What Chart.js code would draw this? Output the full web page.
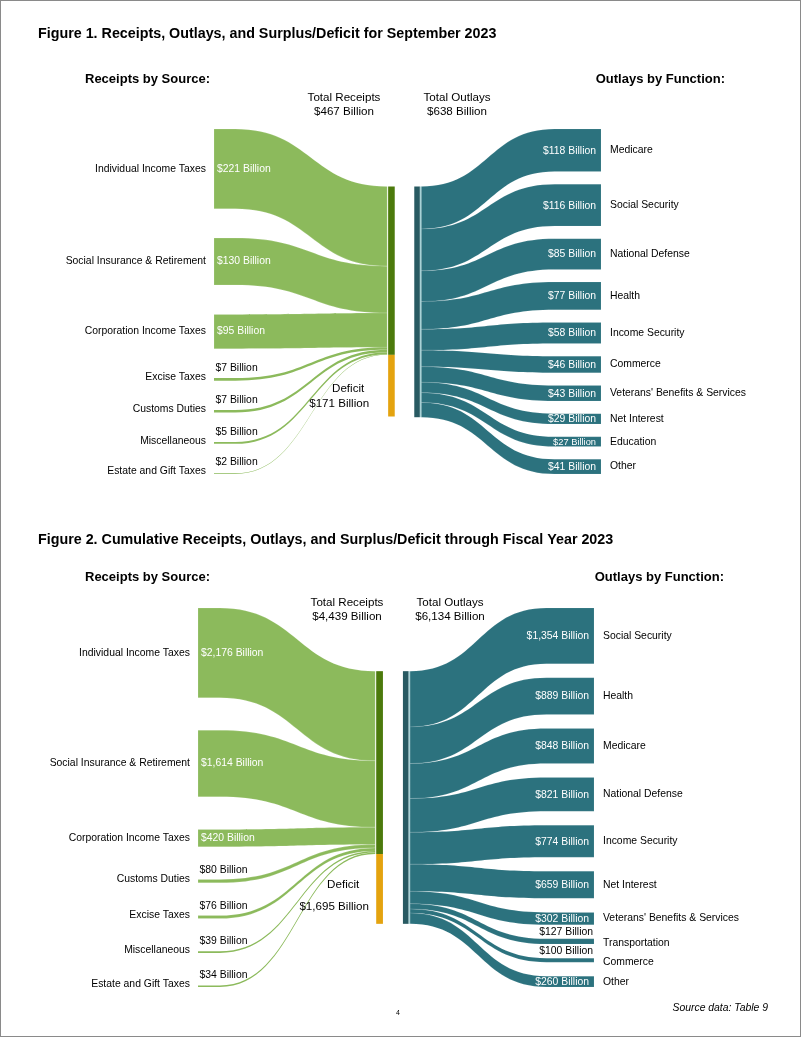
<!DOCTYPE html>
<html>
<head>
<meta charset="utf-8">
<script src="https://cdn.jsdelivr.net/npm/chart.js@4.4.0/dist/chart.umd.min.js"></script>
<style>
  html, body { margin: 0; padding: 0; background: #fff; }
  body { position: relative; width: 802px; height: 1037px; overflow: hidden; }
  #frame { position: absolute; left: 0; top: 0; width: 801px; height: 1037px; box-sizing: border-box; border: 1px solid #8a8a8a; }
  canvas { position: absolute; left: 0; }
  #fig1 { top: 0; }
  #fig2 { top: 510px; }
</style>
</head>
<body>
<div id="frame"></div>
<canvas id="fig1" width="802" height="510"></canvas>
<canvas id="fig2" width="802" height="527"></canvas>
<script>
// Figure 1: September 2023, $ billions
const sepReceiptLabels = ['Individual Income Taxes', 'Social Insurance & Retirement', 'Corporation Income Taxes',
  'Excise Taxes', 'Customs Duties', 'Miscellaneous', 'Estate and Gift Taxes'];
const sepReceiptValues = [221, 130, 95, 7, 7, 5, 2];
const sepOutlayLabels = ['Medicare', 'Social Security', 'National Defense', 'Health', 'Income Security', 'Commerce',
  "Veterans' Benefits & Services", 'Net Interest', 'Education', 'Other'];
const sepOutlayValues = [118, 116, 85, 77, 58, 46, 43, 29, 27, 41];
const sepTotalReceipts = 467;
const sepTotalOutlays = 638;
const sepDeficit = 171;

// Figure 2: cumulative fiscal year 2023, $ billions
const fyReceiptLabels = ['Individual Income Taxes', 'Social Insurance & Retirement', 'Corporation Income Taxes',
  'Customs Duties', 'Excise Taxes', 'Miscellaneous', 'Estate and Gift Taxes'];
const fyReceiptValues = [2176, 1614, 420, 80, 76, 39, 34];
const fyOutlayLabels = ['Social Security', 'Health', 'Medicare', 'National Defense', 'Income Security', 'Net Interest',
  "Veterans' Benefits & Services", 'Transportation', 'Commerce', 'Other'];
const fyOutlayValues = [1354, 889, 848, 821, 774, 659, 302, 127, 100, 260];
const fyTotalReceipts = 4439;
const fyTotalOutlays = 6134;
const fyDeficit = 1695;

const FONT = "'Liberation Sans', Arial, sans-serif";
const GREEN = '#8cba5c';
const GREEN_DARK = '#4c7a0c';
const GOLD = '#e4a30f';
const TEAL = '#2c727e';
const TEAL_DARK = '#285a62';
const TEAL_LINE = '#a8d2d6';

// x positions along the hidden 0..100 axis
const X_LEFT_BEND = 5.5;
const X_FLOW_IN = 44.75;
const X_RNODE = [45.0, 46.7];
const X_ONODE = [51.75, 53.2];
const X_FLOW_OUT = 53.55;
const X_RIGHT_BEND = 88;
const SPAN_FACTOR = 1.5;

const fmt = (v) => '$' + v.toLocaleString('en-US') + ' Billion';

function stack(values, span) {
  const sum = values.reduce((a, b) => a + b, 0);
  const gap = (span - sum) / (values.length - 1);
  let pos = 0;
  return values.map((v) => {
    const r = [pos, pos + v];
    pos += v + gap;
    return r;
  });
}

function band(ctx, L, xs, xe, R, l0, l1, r0, r1) {
  const xm = (xs + xe) / 2;
  ctx.beginPath();
  ctx.moveTo(L, l0);
  ctx.lineTo(xs, l0);
  ctx.bezierCurveTo(xm, l0, xm, r0, xe, r0);
  ctx.lineTo(R, r0);
  ctx.lineTo(R, r1);
  ctx.lineTo(xe, r1);
  ctx.bezierCurveTo(xm, r1, xm, l1, xs, l1);
  ctx.lineTo(L, l1);
  ctx.closePath();
}

function text(ctx, str, px, py, opt = {}) {
  const { size = 10.4, weight = 'normal', style = 'normal', align = 'left', color = '#000' } = opt;
  ctx.font = `${style} ${weight} ${size}px ${FONT}`;
  ctx.fillStyle = color;
  ctx.textAlign = align;
  ctx.textBaseline = 'middle';
  ctx.fillText(str, px, py);
}

function sankeyPlugin(fig) {
  return {
    id: 'sankey',
    afterDraw(chart) {
      const { ctx, scales: { x, y } } = chart;
      const span = fig.totalOutlays * SPAN_FACTOR;
      const left = stack(fig.receiptValues, span);
      const right = stack(fig.outlayValues, span);
      const nodeTop = (span - fig.totalOutlays) / 2;
      const recBottom = nodeTop + fig.totalReceipts;
      const nodeBottom = recBottom + fig.deficit;
      ctx.save();

      // receipts -> total receipts node
      let acc = nodeTop;
      fig.receiptValues.forEach((v, i) => {
        const [a, b] = left[i];
        band(ctx, x.getPixelForValue(0), x.getPixelForValue(X_LEFT_BEND), x.getPixelForValue(X_FLOW_IN),
          x.getPixelForValue(X_FLOW_IN), y.getPixelForValue(a), y.getPixelForValue(b),
          y.getPixelForValue(acc), y.getPixelForValue(acc + v));
        ctx.fillStyle = GREEN;
        ctx.fill();
        if (y.getPixelForValue(b) - y.getPixelForValue(a) > 3) {
          ctx.strokeStyle = 'rgba(255,255,255,0.3)';
          ctx.lineWidth = 0.5;
          ctx.stroke();
        }
        acc += v;
      });

      // total outlays node -> functions
      acc = nodeTop;
      fig.outlayValues.forEach((v, i) => {
        const [a, b] = right[i];
        band(ctx, x.getPixelForValue(X_FLOW_OUT), x.getPixelForValue(X_FLOW_OUT), x.getPixelForValue(X_RIGHT_BEND),
          x.getPixelForValue(100), y.getPixelForValue(acc), y.getPixelForValue(acc + v),
          y.getPixelForValue(a), y.getPixelForValue(b));
        ctx.fillStyle = TEAL;
        ctx.fill();
        ctx.strokeStyle = 'rgba(255,255,255,0.18)';
        ctx.lineWidth = 0.5;
        ctx.stroke();
        acc += v;
      });

      // middle nodes
      const rx0 = x.getPixelForValue(X_RNODE[0]);
      const rx1 = x.getPixelForValue(X_RNODE[1]);
      const yTop = y.getPixelForValue(nodeTop);
      const yRec = y.getPixelForValue(recBottom);
      const yBot = y.getPixelForValue(nodeBottom);
      ctx.fillStyle = GREEN_DARK;
      ctx.fillRect(rx0, yTop, rx1 - rx0, yRec - yTop);
      ctx.fillStyle = GOLD;
      ctx.fillRect(rx0, yRec, rx1 - rx0, yBot - yRec);
      const ox0 = x.getPixelForValue(X_ONODE[0]);
      const ox1 = x.getPixelForValue(X_ONODE[1]);
      const oBot = Math.max(yBot, y.getPixelForValue(acc));
      ctx.fillStyle = TEAL_DARK;
      ctx.fillRect(ox0, yTop, ox1 - ox0, oBot - yTop);
      ctx.fillStyle = TEAL_LINE;
      ctx.fillRect(ox1, yTop, x.getPixelForValue(X_FLOW_OUT) - ox1, oBot - yTop);

      // receipt labels
      const lx = x.getPixelForValue(0);
      fig.receiptLabels.forEach((name, i) => {
        const a = y.getPixelForValue(left[i][0]);
        const b = y.getPixelForValue(left[i][1]);
        const mid = (a + b) / 2;
        if (b - a >= 10) {
          text(ctx, name, lx - 8, mid, { align: 'right' });
          text(ctx, fmt(fig.receiptValues[i]), lx + 3, mid, { color: '#fff' });
        } else {
          text(ctx, name, lx - 8, mid - 2, { align: 'right' });
          text(ctx, fmt(fig.receiptValues[i]), lx + 1.5, mid - 11);
        }
      });

      // outlay labels
      const rx = x.getPixelForValue(100);
      fig.outlayLabels.forEach((name, i) => {
        const a = y.getPixelForValue(right[i][0]);
        const b = y.getPixelForValue(right[i][1]);
        const mid = (a + b) / 2;
        const h = b - a;
        text(ctx, name, rx + 9, mid + (h < 8 ? 2 : 0));
        if (h >= 8) {
          text(ctx, fmt(fig.outlayValues[i]), rx - 5, mid + 0.5,
            { align: 'right', color: '#fff', size: h >= 10 ? 10.4 : 9.3 });
        } else {
          text(ctx, fmt(fig.outlayValues[i]), rx - 1, a - 7, { align: 'right' });
        }
      });

      // headings
      text(ctx, fig.title, 38, fig.titleY, { size: 14.3, weight: 'bold' });
      text(ctx, 'Receipts by Source:', 85, fig.headY, { size: 13, weight: 'bold' });
      text(ctx, 'Outlays by Function:', fig.headRight, fig.headY, { size: 13, weight: 'bold', align: 'right' });
      text(ctx, 'Total Receipts', fig.totRecX, fig.totY, { size: 11.6, align: 'center' });
      text(ctx, fmt(fig.totalReceipts), fig.totRecX, fig.totY + 14, { size: 11.6, align: 'center' });
      text(ctx, 'Total Outlays', fig.totOutX, fig.totY, { size: 11.6, align: 'center' });
      text(ctx, fmt(fig.totalOutlays), fig.totOutX, fig.totY + 14, { size: 11.6, align: 'center' });

      const defMid = (yRec + yBot) / 2;
      text(ctx, 'Deficit', rx0 - fig.defDx[0], defMid + fig.defDy[0], { size: 11.6, align: 'center' });
      text(ctx, fmt(fig.deficit), rx0 - fig.defDx[1], defMid + fig.defDy[1], { size: 11.6, align: 'center' });

      if (fig.footer) {
        text(ctx, 'Source data: Table 9', 768, fig.footerY, { style: 'italic', align: 'right' });
        text(ctx, '4', 398, fig.footerY + 5, { size: 7, align: 'center' });
      }
      ctx.restore();
    },
  };
}

function makeSankey(canvasId, fig) {
  const span = fig.totalOutlays * SPAN_FACTOR;
  return new Chart(document.getElementById(canvasId), {
    type: 'scatter',
    data: { datasets: [] },
    options: {
      responsive: false,
      animation: false,
      events: [],
      layout: { padding: fig.padding },
      plugins: { legend: { display: false }, tooltip: { enabled: false } },
      scales: {
        x: { type: 'linear', display: false, min: 0, max: 100 },
        y: { type: 'linear', display: false, min: 0, max: span, reverse: true },
      },
    },
    plugins: [sankeyPlugin(fig)],
  });
}

makeSankey('fig1', {
  title: 'Figure 1. Receipts, Outlays, and Surplus/Deficit for September 2023',
  receiptLabels: sepReceiptLabels,
  receiptValues: sepReceiptValues,
  outlayLabels: sepOutlayLabels,
  outlayValues: sepOutlayValues,
  totalReceipts: sepTotalReceipts,
  totalOutlays: sepTotalOutlays,
  deficit: sepDeficit,
  padding: { left: 214, right: 201, top: 129, bottom: 36 },
  titleY: 34, headY: 79, headRight: 725,
  totRecX: 344, totOutX: 457, totY: 98,
  defDx: [40, 49], defDy: [3, 18],
});

makeSankey('fig2', {
  title: 'Figure 2. Cumulative Receipts, Outlays, and Surplus/Deficit through Fiscal Year 2023',
  receiptLabels: fyReceiptLabels,
  receiptValues: fyReceiptValues,
  outlayLabels: fyOutlayLabels,
  outlayValues: fyOutlayValues,
  totalReceipts: fyTotalReceipts,
  totalOutlays: fyTotalOutlays,
  deficit: fyDeficit,
  padding: { left: 198, right: 208, top: 98, bottom: 50 },
  titleY: 30, headY: 67, headRight: 724,
  totRecX: 347, totOutX: 450, totY: 93,
  defDx: [33, 42], defDy: [-4, 18],
  footer: true, footerY: 498,
});
</script>
</body>
</html>
